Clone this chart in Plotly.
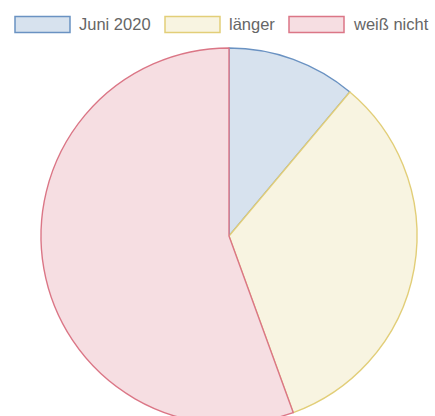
import plotly.graph_objects as go

labels = ["Juni 2020", "länger", "weiß nicht"]
values = [1, 3, 5]

fill_colors = ["rgb(215,226,238)", "rgb(248,244,225)", "rgb(246,222,226)"]
line_colors = ["rgb(106,146,194)", "rgb(226,206,120)", "rgb(219,118,134)"]

W, H = 435, 440
cx, cy, r = 229, 236, 188

fig = go.Figure(go.Pie(
    labels=labels,
    values=values,
    sort=False,
    direction="clockwise",
    rotation=0,
    textinfo="none",
    hoverinfo="label+value",
    marker=dict(colors=fill_colors, line=dict(color=line_colors, width=1.4)),
    domain=dict(x=[(cx - r) / W, (cx + r) / W], y=[(H - (cy + r)) / H, (H - (cy - r)) / H]),
    showlegend=False,
))

# manual legend (Chart.js style wide boxes)
box_x = [15, 165, 289]
box_w = 55
box_top, box_bot = 16.5, 32.5
shapes = []
annotations = []
for i, lab in enumerate(labels):
    x0 = box_x[i]
    shapes.append(dict(
        type="rect", xref="paper", yref="paper",
        x0=x0 / W, x1=(x0 + box_w) / W,
        y0=(H - box_bot) / H, y1=(H - box_top) / H,
        fillcolor=fill_colors[i], line=dict(color=line_colors[i], width=1.5),
    ))
    annotations.append(dict(
        xref="paper", yref="paper", x=(x0 + box_w + 7) / W, y=(H - 24.5) / H,
        text=lab, showarrow=False, xanchor="left", yanchor="middle",
        font=dict(family="Liberation Sans, Arial, sans-serif", size=16.5, color="#666666"),
    ))

fig.update_layout(
    width=W, height=H,
    margin=dict(l=0, r=0, t=0, b=0),
    paper_bgcolor="white", plot_bgcolor="white",
    shapes=shapes, annotations=annotations,
)

fig.write_html("out.html", post_script="document.documentElement.style.overflow='hidden';document.body.style.overflow='hidden';document.body.style.margin='0';")
